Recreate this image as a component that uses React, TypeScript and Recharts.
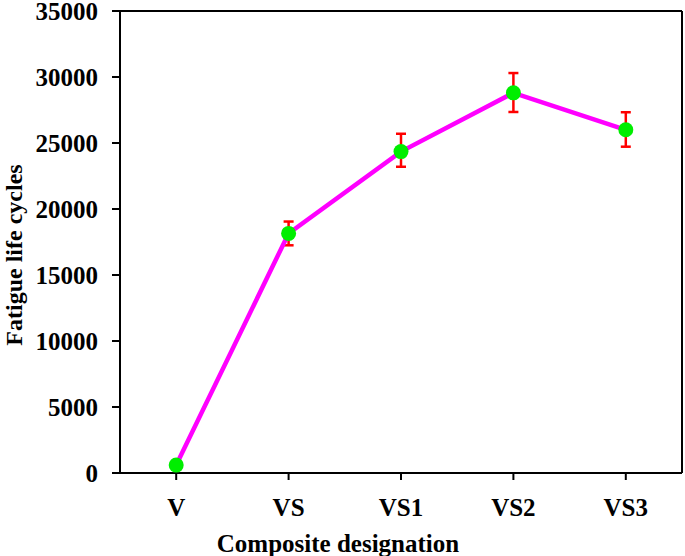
import { ErrorBar, Label, Line, LineChart, ReferenceLine, XAxis, YAxis } from "recharts";

const FONT = "'Liberation Serif', 'Times New Roman', serif";

const categories = ["V", "VS", "VS1", "VS2", "VS3"];
const cycles = [600, 18150, 24350, 28800, 26000];
const errLow = [300, 900, 1150, 1450, 1280];
const errHigh = [300, 900, 1350, 1500, 1330];
const yTicks = [0, 5000, 10000, 15000, 20000, 25000, 30000, 35000];
const xTicks = [0, 1, 2, 3, 4];

const data = categories.map((c, i) => ({
  idx: i,
  name: c,
  cycles: cycles[i],
  err: [errLow[i], errHigh[i]],
}));

const tickStyle = { fill: "#000", fontSize: 25, fontWeight: 700, fontFamily: FONT };
const frame = { stroke: "#000", strokeWidth: 2 };

function XTitle({ viewBox }: any) {
  return (
    <text
      x={viewBox.x + viewBox.width / 2 - 63}
      y={viewBox.y + 79}
      textAnchor="middle"
      style={{ fontSize: 25, fontWeight: 700, fontFamily: FONT, fill: "#000" }}
    >
      Composite designation
    </text>
  );
}

function YTitle({ viewBox }: any) {
  const cx = 14;
  const cy = viewBox.y + viewBox.height / 2 + 13;
  return (
    <text
      x={cx}
      y={cy}
      transform={`rotate(-90 ${cx} ${cy})`}
      textAnchor="middle"
      dominantBaseline="central"
      style={{ fontSize: 24, fontWeight: 700, fontFamily: FONT, fill: "#000" }}
    >
      Fatigue life cycles
    </text>
  );
}

export default function App() {
  return (
    <div style={{ position: "absolute", left: 0, top: 0, background: "#fff" }}>
      <LineChart width={685} height={556} data={data} margin={{ top: 11, right: 3, bottom: 0, left: 0 }}>
        <XAxis
          type="number"
          dataKey="idx"
          domain={[-0.5, 4.5]}
          ticks={xTicks}
          interval={0}
          allowDecimals
          tickFormatter={(v: number) => categories[v] ?? ""}
          tick={tickStyle}
          tickSize={7}
          tickMargin={18}
          height={83}
          axisLine={frame}
          tickLine={frame}
        >
          <Label content={XTitle} />
        </XAxis>
        <YAxis
          domain={[0, 35000]}
          ticks={yTicks}
          interval={0}
          width={120}
          tick={tickStyle}
          tickSize={8}
          tickMargin={14}
          axisLine={frame}
          tickLine={frame}
        >
          <Label content={YTitle} />
        </YAxis>
        {/* top and right edges of the plot box */}
        <ReferenceLine y={35000} stroke="#000" strokeWidth={2} ifOverflow="visible" />
        <ReferenceLine x={4.5} stroke="#000" strokeWidth={2} ifOverflow="visible" />
        <Line
          dataKey="cycles"
          stroke="#ff00ff"
          strokeWidth={4.5}
          dot={{ r: 7.5, fill: "#00ee00", stroke: "none" }}
          activeDot={false}
          isAnimationActive={false}
        >
          <ErrorBar dataKey="err" direction="y" stroke="#ff0000" strokeWidth={2.5} width={5} />
        </Line>
      </LineChart>
    </div>
  );
}
